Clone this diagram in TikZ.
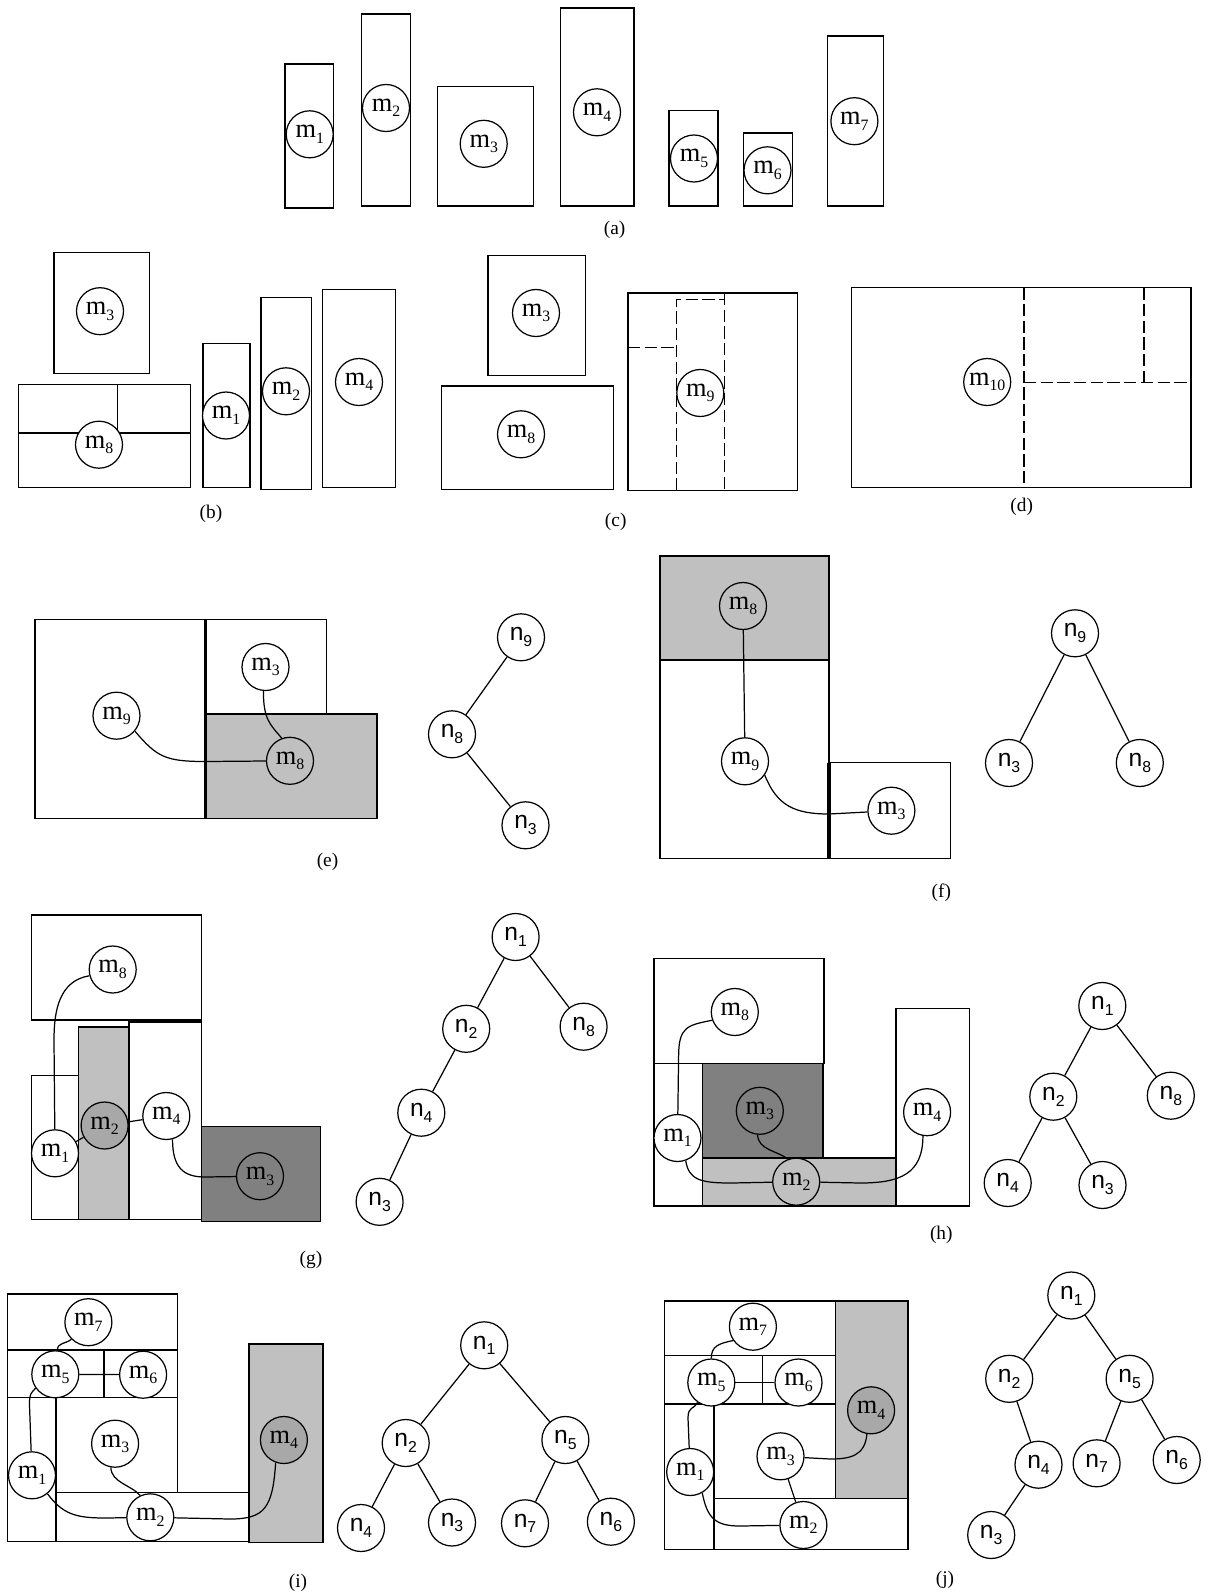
\documentclass[tikz,border=0pt]{standalone}
\usepackage{fontspec}
\setmainfont{Liberation Serif}
\setsansfont{Liberation Sans}
\usepackage{xcolor}
\usepackage{tikz}
\usetikzlibrary{positioning, calc}
\definecolor{LightFill}{RGB}{192, 192, 192}
\definecolor{MidFill}{RGB}{168, 168, 168}
\definecolor{DarkFill}{RGB}{128, 128, 128}
\newcommand{\modfont}{\fontsize{15}{15}\selectfont}
\newcommand{\treefont}{\sffamily\fontsize{14}{14}\selectfont}
\newcommand{\tagfont}{\fontsize{11}{11}\selectfont}
\newcommand{\subfont}{\fontsize{9}{9}\selectfont}
\newcommand{\mlab}[1]{m\raisebox{-0.45ex}{\subfont #1}}
\newcommand{\nlab}[1]{n\raisebox{-0.45ex}{\subfont #1}}

\begin{document}
\begin{tikzpicture}[
    x=0.02cm, y=-0.02cm,
    blk/.style={draw, line width=0.8pt},
    cut/.style={draw, line width=0.8pt, dash pattern=on 7pt off 2.5pt},
    mnode/.style={circle, draw, fill=white, line width=0.7pt, minimum size=0.94cm, inner sep=0pt, font=\modfont},
    nnode/.style={circle, draw, fill=white, line width=0.7pt, minimum size=0.94cm, inner sep=0pt, font=\treefont},
    link/.style={line width=0.7pt},
    tag/.style={font=\tagfont}
  ]
  \fill[white] (0,0) rectangle (1216,1595);
  \useasboundingbox (0,0) rectangle (1216,1595);

  % (a)
  \draw[blk] (285,64) rectangle (333.7,208);
  \draw[blk] (361.3,14) rectangle (410.4,206);
  \draw[blk] (437.7,86.3) rectangle (533.3,206);
  \draw[blk] (560.6,8) rectangle (633.8,206);
  \draw[blk] (669,110.3) rectangle (718,206);
  \draw[blk] (743.3,133) rectangle (792.7,206);
  \draw[blk] (827.5,36) rectangle (883.3,206);
  \node[mnode] (am1) at (309.7,134.3) {\mlab{1}};
  \node[mnode] (am2) at (386,108) {\mlab{2}};
  \node[mnode] (am3) at (483.7,143.8) {\mlab{3}};
  \node[mnode] (am4) at (597,112.3) {\mlab{4}};
  \node[mnode] (am5) at (694,158.5) {\mlab{5}};
  \node[mnode] (am6) at (767.5,170.3) {\mlab{6}};
  \node[mnode] (am7) at (854.4,121.2) {\mlab{7}};
  \node[tag] (taga) at (614.6,230) {(a)};

  % (b)
  \draw[blk] (54,252.3) rectangle (149.3,373.7);
  \draw[blk] (18.7,384.7) rectangle (190.7,487.3);
  \draw[blk] (18.7,433) -- (190.7,433);
  \draw[blk] (117.3,384.7) -- (117.3,433);
  \draw[blk] (203,343.7) rectangle (250,487.3);
  \draw[blk] (261,297.3) rectangle (311.7,489.3);
  \draw[blk] (322.3,289.7) rectangle (395.7,487.3);
  \node[mnode] (bm3) at (100,311.2) {\mlab{3}};
  \node[mnode] (bm8) at (99,444.7) {\mlab{8}};
  \node[mnode] (bm1) at (226,415.5) {\mlab{1}};
  \node[mnode] (bm2) at (286,391.3) {\mlab{2}};
  \node[mnode] (bm4) at (359,382) {\mlab{4}};
  \node[tag] (tagb) at (211,514) {(b)};

  % (c)
  \draw[blk] (488,255.7) rectangle (585.7,375.3);
  \draw[blk] (441.3,386) rectangle (613.3,489.3);
  \draw[blk] (628,293) rectangle (797.7,490.7);
  \draw[cut] (628,347.3) -- (676.7,347.3);
  \draw[cut] (676.7,490.7) -- (676.7,299.3) -- (724.3,299.3);
  \draw[cut] (724.3,293) -- (724.3,490.7);
  \node[mnode] (cm3) at (536,313) {\mlab{3}};
  \node[mnode] (cm8) at (521,434.3) {\mlab{8}};
  \node[mnode] (cm9) at (700.3,393) {\mlab{9}};
  \node[tag] (tagc) at (615.7,522) {(c)};

  % (d)
  \draw[blk] (851.3,287.3) rectangle (1191,487.3);
  \draw[cut] (1024,287.3) -- (1024,487.3);
  \draw[cut] (1024,382.7) -- (1192,382.7);
  \draw[cut] (1144,287.3) -- (1144,382.7);
  \node[mnode] (dm10) at (987.2,382) {\mlab{10}};
  \node[tag] (tagd) at (1021.7,507.3) {(d)};

  % (e)
  \draw[blk, fill=LightFill] (205.6,714) rectangle (376.8,818.7);
  \draw[blk] (35.2,619.3) rectangle (205.6,818.7);
  \draw[blk] (205.6,619.3) rectangle (326.6,714);
  \draw[line width=1.8pt] (205.6,619.3) -- (205.6,818.7);
  \node[mnode] (em3) at (265.5,667) {\mlab{3}};
  \node[mnode] (em9) at (116.5,715.7) {\mlab{9}};
  \node[mnode, fill=LightFill] (em8) at (290,760.8) {\mlab{8}};
  \coordinate (ce) at (205.6,761.5);
  \draw[link] (em9.-40) .. controls +(22,26) and +(-40,0) .. (ce) -- (em8);
  \draw[link] (em3.265) .. controls +(0,28) and +(-12,-14) .. (em8.110);
  \node[nnode] (en9) at (521,637.3) {\nlab{9}};
  \node[nnode] (en8) at (452,734.3) {\nlab{8}};
  \node[nnode] (en3) at (525.5,825.3) {\nlab{3}};
  \draw[link] (en8) -- (en9);
  \draw[link] (en8) -- (en3);
  \node[tag] (tage) at (327.5,862) {(e)};

  % (f)
  \draw[blk, fill=LightFill] (659.9,556) rectangle (829,660);
  \draw[blk] (659.9,556) rectangle (829,858.3);
  \draw[blk] (829,762.7) rectangle (950.7,858.3);
  \draw[line width=1.8pt] (829,762.7) -- (829,858.3);
  \node[mnode, fill=LightFill] (fm8) at (743,606) {\mlab{8}};
  \node[mnode] (fm9) at (745,761.3) {\mlab{9}};
  \node[mnode] (fm3) at (891.4,810.7) {\mlab{3}};
  \coordinate (cf) at (829,814);
  \draw[link] (fm8) -- (fm9);
  \draw[link] (fm9.-35) .. controls +(12,30) and +(-35,0) .. (cf) -- (fm3);
  \node[nnode] (fn9) at (1075,633.3) {\nlab{9}};
  \node[nnode] (fn3) at (1009,763) {\nlab{3}};
  \node[nnode] (fn8) at (1139.8,763) {\nlab{8}};
  \draw[link] (fn9) -- (fn3);
  \draw[link] (fn9) -- (fn8);
  \node[tag] (tagf) at (941.3,892.5) {(f)};

  % (g)
  \draw[blk] (31.6,915) rectangle (201.7,1020);
  \draw[blk] (31.6,1075.7) rectangle (78.3,1219.3);
  \draw[blk, fill=LightFill] (78.3,1027) rectangle (128.9,1219.3);
  \draw[blk] (128.9,1022) rectangle (201.7,1219.3);
  \draw[blk, fill=DarkFill] (201.7,1126.3) rectangle (320.7,1221.7);
  \node[mnode] (gm8) at (112.7,969.5) {\mlab{8}};
  \node[mnode] (gm1) at (55,1153.3) {\mlab{1}};
  \node[mnode, fill=MidFill] (gm2) at (104.6,1125.5) {\mlab{2}};
  \node[mnode] (gm4) at (166.3,1116) {\mlab{4}};
  \node[mnode, fill=DarkFill] (gm3) at (260,1176.2) {\mlab{3}};
  \coordinate (cg1) at (54,1040);
  \coordinate (cg2) at (205,1177);
  \draw[link] (gm8.195) .. controls +(-30,5) and +(0,-30) .. (cg1) -- (gm1);
  \draw[link] (gm1) -- (gm2);
  \draw[link] (gm2) -- (gm4);
  \draw[link] (gm4.-75) .. controls +(0,28) and +(-22,0) .. (cg2) -- (gm3);
  \node[nnode] (gn1) at (515.6,937) {\nlab{1}};
  \node[nnode] (gn2) at (466.2,1028.8) {\nlab{2}};
  \node[nnode] (gn8) at (583.6,1026.7) {\nlab{8}};
  \node[nnode] (gn4) at (421.3,1112.7) {\nlab{4}};
  \node[nnode] (gn3) at (379.6,1201.8) {\nlab{3}};
  \draw[link] (gn1) -- (gn2);
  \draw[link] (gn1) -- (gn8);
  \draw[link] (gn2) -- (gn4);
  \draw[link] (gn4) -- (gn3);
  \node[tag] (tagg) at (311,1260) {(g)};

  % (h)
  \draw[blk] (654,958.3) rectangle (824,1063.3);
  \draw[blk] (654,1063.3) rectangle (702.5,1206);
  \draw[blk, fill=DarkFill] (702.5,1063.3) rectangle (823,1158);
  \draw[blk, fill=LightFill] (702.5,1158) rectangle (896,1206);
  \draw[blk] (896,1008.7) rectangle (969.5,1206);
  \node[mnode] (hm8) at (734.8,1012) {\mlab{8}};
  \node[mnode] (hm1) at (677.5,1138) {\mlab{1}};
  \node[mnode, fill=DarkFill] (hm3) at (759.8,1110.8) {\mlab{3}};
  \node[mnode, fill=LightFill] (hm2) at (796.2,1181.7) {\mlab{2}};
  \node[mnode] (hm4) at (927.1,1112.2) {\mlab{4}};
  \coordinate (ch1) at (678.6,1056.7);
  \coordinate (ch2) at (732,1183);
  \coordinate (ch3) at (860,1183);
  \draw[link] (hm8.200) .. controls +(-25,5) and +(0,-30) .. (ch1) -- (hm1);
  \draw[link] (hm1.-70) .. controls +(3,20) and +(-30,0) .. (ch2) -- (hm2);
  \draw[link] (hm3.-95) .. controls +(0,15) and +(-10,-8) .. (hm2.110);
  \draw[link] (hm4.-100) .. controls +(0,38) and +(40,0) .. (ch3) -- (hm2);
  \node[nnode] (hn1) at (1102.3,1006) {\nlab{1}};
  \node[nnode] (hn2) at (1053.3,1096.7) {\nlab{2}};
  \node[nnode] (hn8) at (1170.8,1095.7) {\nlab{8}};
  \node[nnode] (hn4) at (1007.7,1183) {\nlab{4}};
  \node[nnode] (hn3) at (1102.5,1185) {\nlab{3}};
  \draw[link] (hn1) -- (hn2);
  \draw[link] (hn1) -- (hn8);
  \draw[link] (hn2) -- (hn4);
  \draw[link] (hn2) -- (hn3);
  \node[tag] (tagh) at (941.3,1234.5) {(h)};

  % (i)
  \draw[blk, fill=LightFill] (249,1344) rectangle (322.8,1542.3);
  \draw[blk] (7.6,1294) rectangle (177.6,1350);
  \draw[blk] (7.6,1350) rectangle (104,1397.7);
  \draw[blk] (104,1350) rectangle (177.6,1397.7);
  \draw[blk] (7.6,1397.7) rectangle (56,1541.7);
  \draw[blk] (56,1397.7) rectangle (177.6,1492.7);
  \draw[blk] (56,1492.7) rectangle (249,1541.7);
  \node[mnode] (im7) at (88.4,1322.2) {\mlab{7}};
  \node[mnode] (im5) at (55.3,1374.3) {\mlab{5}};
  \node[mnode] (im6) at (143.1,1374.7) {\mlab{6}};
  \node[mnode] (im3) at (115.1,1443.7) {\mlab{3}};
  \node[mnode] (im1) at (32,1475.3) {\mlab{1}};
  \node[mnode] (im2) at (150.3,1517.3) {\mlab{2}};
  \node[mnode, fill=MidFill] (im4) at (283.9,1440) {\mlab{4}};
  \coordinate (ci1) at (29.5,1405);
  \coordinate (ci2) at (105,1518);
  \coordinate (ci3) at (230,1519);
  \draw[link] (im7.225) .. controls +(-6,5) and +(0,-8) .. (im5.85);
  \draw[link] (im5) -- (im6);
  \draw[link] (im5.215) .. controls +(-5,6) and +(0,-12) .. (ci1) -- (im1);
  \draw[link] (im1.-50) .. controls +(15,20) and +(-30,0) .. (ci2) -- (im2);
  \draw[link] (im3.-100) .. controls +(0,15) and +(-8,-10) .. (im2.115);
  \draw[link] (im4.-110) .. controls +(-3,45) and +(35,0) .. (ci3) -- (im2);
  \node[nnode] (in1) at (484.2,1345.3) {\nlab{1}};
  \node[nnode] (in2) at (405.7,1443) {\nlab{2}};
  \node[nnode] (in5) at (565.4,1440) {\nlab{5}};
  \node[nnode] (in4) at (361,1528) {\nlab{4}};
  \node[nnode] (in3) at (452,1522.5) {\nlab{3}};
  \node[nnode] (in7) at (525,1523.3) {\nlab{7}};
  \node[nnode] (in6) at (610.9,1521.7) {\nlab{6}};
  \draw[link] (in1) -- (in2);
  \draw[link] (in1) -- (in5);
  \draw[link] (in2) -- (in4);
  \draw[link] (in2) -- (in3);
  \draw[link] (in5) -- (in7);
  \draw[link] (in5) -- (in6);
  \node[tag] (tagi) at (298,1583) {(i)};

  % (j)
  \draw[blk, fill=LightFill] (835.2,1301) rectangle (908.1,1498.3);
  \draw[blk] (664.4,1301) rectangle (908.1,1549.3);
  \draw[blk] (664.4,1301) rectangle (835.2,1355.7);
  \draw[blk] (664.4,1355.7) rectangle (762.6,1404);
  \draw[blk] (762.6,1355.7) rectangle (835.2,1404);
  \draw[blk] (664.4,1404) rectangle (713.9,1549.3);
  \draw[blk] (713.9,1404) rectangle (835.2,1498.3);
  \draw[blk] (713.9,1498.3) rectangle (908.1,1549.3);
  \node[mnode] (jm7) at (752.9,1326.7) {\mlab{7}};
  \node[mnode] (jm5) at (711.3,1382.5) {\mlab{5}};
  \node[mnode] (jm6) at (798.5,1382.5) {\mlab{6}};
  \node[mnode, fill=MidFill] (jm4) at (871.1,1410.3) {\mlab{4}};
  \node[mnode] (jm3) at (780.5,1456.3) {\mlab{3}};
  \node[mnode] (jm1) at (690.2,1472) {\mlab{1}};
  \node[mnode] (jm2) at (803.4,1525) {\mlab{2}};
  \coordinate (cj1) at (688,1418);
  \coordinate (cj2) at (740,1526);
  \coordinate (cj3) at (830,1459);
  \draw[link] (jm7.215) .. controls +(-15,3) and +(0,-12) .. (jm5.north);
  \draw[link] (jm5) -- (jm6);
  \draw[link] (jm5.235) .. controls +(-4,8) and +(0,-12) .. (cj1) -- (jm1);
  \draw[link] (jm1.-60) .. controls +(5,25) and +(-25,0) .. (cj2) -- (jm2);
  \draw[link] (jm3) -- (jm2);
  \draw[link] (jm4.-100) .. controls +(-2,22) and +(20,0) .. (cj3) -- (jm3);
  \node[nnode] (jn1) at (1071.3,1295.5) {\nlab{1}};
  \node[nnode] (jn2) at (1009.2,1378.8) {\nlab{2}};
  \node[nnode] (jn5) at (1129.6,1378.8) {\nlab{5}};
  \node[nnode] (jn4) at (1038.5,1464.7) {\nlab{4}};
  \node[nnode] (jn7) at (1096.6,1463.3) {\nlab{7}};
  \node[nnode] (jn6) at (1176.7,1460) {\nlab{6}};
  \node[nnode] (jn3) at (991.2,1535) {\nlab{3}};
  \draw[link] (jn1) -- (jn2);
  \draw[link] (jn1) -- (jn5);
  \draw[link] (jn2) -- (jn4);
  \draw[link] (jn4) -- (jn3);
  \draw[link] (jn5) -- (jn7);
  \draw[link] (jn5) -- (jn6);
  \node[tag] (tagj) at (945,1580) {(j)};
\end{tikzpicture}
\end{document}
